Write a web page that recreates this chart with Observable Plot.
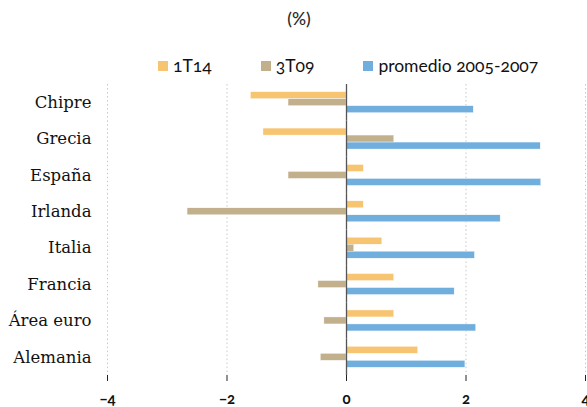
<!DOCTYPE html>
<html><head><meta charset="utf-8">
<script src="https://cdn.jsdelivr.net/npm/d3@7"></script>
<script src="https://cdn.jsdelivr.net/npm/@observablehq/plot@0.6"></script>
<style>
body{margin:0;background:#fff;width:587px;height:407px;overflow:hidden;font-family:Lato,"Open Sans",sans-serif;position:relative;}
#title{position:absolute;top:8px;left:0;width:598px;text-align:center;font-size:17.5px;color:#2a2a2a;font-weight:500;font-variant-numeric:oldstyle-nums;}
#legend{position:absolute;top:55px;left:158px;display:flex;gap:49px;font-size:17.5px;color:#111;font-variant-numeric:oldstyle-nums;white-space:nowrap;}
#legend .it{display:flex;align-items:center;}
#legend .sw{width:10px;height:10px;margin-right:5px;}
#chart{position:absolute;top:76px;left:0;width:587px;height:331px;}
#chart svg text{font-variant-numeric:oldstyle-nums;}
</style></head>
<body>
<div id="title">(%)</div>
<div id="legend"></div>
<div id="chart"></div>
<script>
const countries = ["Chipre","Grecia","España","Irlanda","Italia","Francia","Área euro","Alemania"];
const series = ["1T14","3T09","promedio 2005-2007"];
const v1T14 = [-1.6,-1.39,0.29,0.29,0.6,0.8,0.8,1.2];
const v3T09 = [-0.97,0.8,-0.97,-2.66,0.13,-0.47,-0.37,-0.43];
const vProm = [2.13,3.25,3.26,2.58,2.15,1.81,2.17,1.99];
const xTicks = [-4,-2,0,2,4];
const colors = ["#F7C571","#C2AF8B","#70AEDE"];

const valuesBySeries = [v1T14, v3T09, vProm];
const data = [];
countries.forEach((c, i) => series.forEach((s, j) => data.push({country: c, series: s, value: valuesBySeries[j][i]})));

// legend
const lg = document.getElementById("legend");
series.forEach((s, j) => {
  const it = document.createElement("div"); it.className = "it";
  const sw = document.createElement("div"); sw.className = "sw"; sw.style.background = colors[j];
  const tx = document.createElement("span"); tx.textContent = s;
  it.appendChild(sw); it.appendChild(tx); lg.appendChild(it);
});

const W = 587, H = 331, mT = 8, mB = 32, mL = 107, mR = 2;
const facetH = (H - mT - mB) / countries.length;

const plot = Plot.plot({
  width: W, height: H,
  marginTop: mT, marginBottom: mB, marginLeft: mL, marginRight: mR,
  style: {fontFamily: "Lato, 'Open Sans', sans-serif", background: "transparent"},
  x: {domain: [xTicks[0], xTicks[xTicks.length-1]], axis: null},
  fy: {domain: countries, padding: 0, round: false, axis: null},
  y: {domain: series, paddingInner: 0, paddingOuter: 1.1, round: false, axis: null},
  color: {domain: series, range: colors},
  marks: [
    Plot.ruleX(xTicks.filter(d => d !== 0), {stroke: "#c8c8c8", strokeDasharray: "1.5,2.5"}),
    Plot.barX(data, {fy: "country", y: "series", x: "value", fill: "series", stroke: "white", strokeWidth: 0.4}),
    Plot.ruleX([0], {stroke: "#555", strokeWidth: 1.3}),
    Plot.ruleY(countries, {fy: d => d, x1: 0, x2: 0, insetLeft: -5, dy: -facetH/2, stroke: "#555", strokeWidth: 1.3}),
    Plot.ruleY([countries[countries.length-1]], {fy: d => d, x1: xTicks[0], x2: xTicks[xTicks.length-1], dy: facetH/2, stroke: "#222", strokeWidth: 1.3}),
    Plot.axisX(xTicks, {anchor: "bottom", tickSize: 6, tickPadding: 12, fontSize: 15, fontWeight: "bold", stroke: "#222", fill: "#111", label: null}),
    Plot.axisFy({anchor: "left", tickSize: 0, tickPadding: 16, fontSize: 16.5, fontFamily: "DejaVu Serif", fill: "#111", label: null})
  ]
});
document.getElementById("chart").appendChild(plot);
</script>
</body></html>
